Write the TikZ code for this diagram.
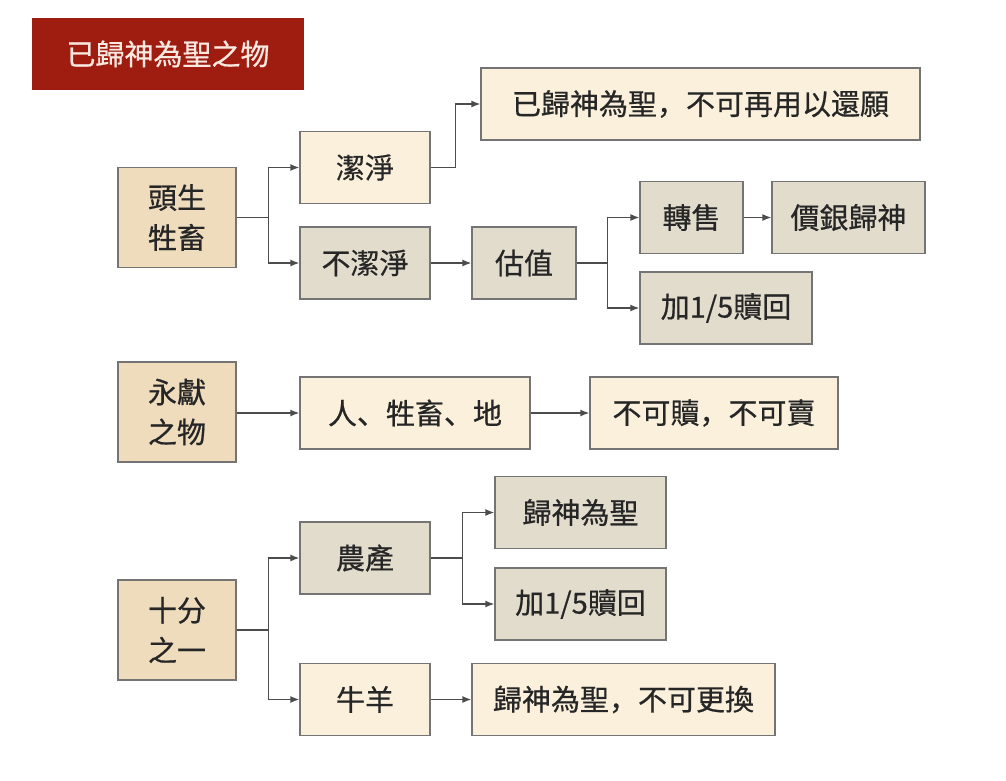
\documentclass[tikz,border=0pt]{standalone}
\usepackage{fontspec}
\setmainfont{Noto Sans CJK SC}
\newfontfamily\boxfont[FakeBold=0.6]{Noto Sans CJK SC}
\usetikzlibrary{shapes,arrows,arrows.meta,positioning}
\definecolor{titlered}{HTML}{9E1C10}
\definecolor{tan}{HTML}{EEDCBD}
\definecolor{cream}{HTML}{FAF0DC}
\definecolor{stone}{HTML}{E2DCCD}
\definecolor{edgegray}{HTML}{747474}
\definecolor{inkgray}{HTML}{262626}
\definecolor{titleink}{HTML}{F9E9E1}
\begin{document}
\begin{tikzpicture}[x=1pt,y=-1pt,>={Latex[length=9pt,width=7pt]},
  box/.style={draw=edgegray,line width=1.3pt,text=inkgray,inner sep=0pt,
    font=\boxfont\fontsize{29}{40}\selectfont,align=center},
  rootbox/.style={box,fill=tan,minimum width=118pt,minimum height=100pt},
  creambox/.style={box,fill=cream,minimum height=72pt},
  stonebox/.style={box,fill=stone,minimum height=72pt},
  link/.style={->,draw=black!70,line width=1.4pt}]
\useasboundingbox[fill=white] (0,0) rectangle (1006,781);

%Title
\node[fill=titlered,text=titleink,minimum width=272pt,minimum height=72pt,
  font=\boxfont\fontsize{29}{34}\selectfont] (title) at (168,54) {已歸神為聖之物};

%Firstborn
\node[rootbox] (head) at (177,217.5) {頭生\\牲畜};
\node[creambox,minimum width=130pt] (clean) at (365,167.5) {潔淨};
\node[stonebox,minimum width=130pt] (unclean) at (365,263) {不潔淨};
\node[creambox,minimum width=439pt] (novow) at (700.5,104) {已歸神為聖，不可再用以還願};
\node[stonebox,minimum width=104pt] (value) at (524,263) {估值};
\node[stonebox,minimum width=103pt] (resell) at (691.5,217.5) {轉售};
\node[stonebox,minimum width=153pt] (silver) at (848.5,217.5) {價銀歸神};
\node[stonebox,minimum width=172pt] (redeemA) at (726,308) {加1/5贖回};

%Devoted
\node[rootbox] (devoted) at (177,412) {永獻\\之物};
\node[creambox,minimum width=230pt] (people) at (415,413) {人、牲畜、地};
\node[creambox,minimum width=248pt] (nosell) at (714,413) {不可贖，不可賣};

%Tithe
\node[rootbox] (tithe) at (177,630) {十分\\之一};
\node[stonebox,minimum width=130pt] (crops) at (365,558) {農產};
\node[stonebox,minimum width=171pt] (holy) at (580.5,512.5) {歸神為聖};
\node[stonebox,minimum width=171pt] (redeemB) at (580.5,604) {加1/5贖回};
\node[creambox,minimum width=130pt] (herd) at (365,699.5) {牛羊};
\node[creambox,minimum width=303pt] (noswap) at (623.5,699.5) {歸神為聖，不可更換};

\draw[link] (head.east) -- +(32,0) |- (clean.west);
\draw[link] (head.east) -- +(32,0) |- (unclean.west);
\draw[link] (clean.east) -- +(25,0) |- (novow.west);
\draw[link] (unclean) -- (value);
\draw[link] (value.east) -- +(31,0) |- (resell.west);
\draw[link] (value.east) -- +(31,0) |- (redeemA.west);
\draw[link] (resell) -- (silver);

\draw[link] (devoted.east |- people) -- (people);
\draw[link] (people) -- (nosell);

\draw[link] (tithe.east) -- +(32,0) |- (crops.west);
\draw[link] (tithe.east) -- +(32,0) |- (herd.west);
\draw[link] (crops.east) -- +(32,0) |- (holy.west);
\draw[link] (crops.east) -- +(32,0) |- (redeemB.west);
\draw[link] (herd) -- (noswap);

\end{tikzpicture}
\end{document}
